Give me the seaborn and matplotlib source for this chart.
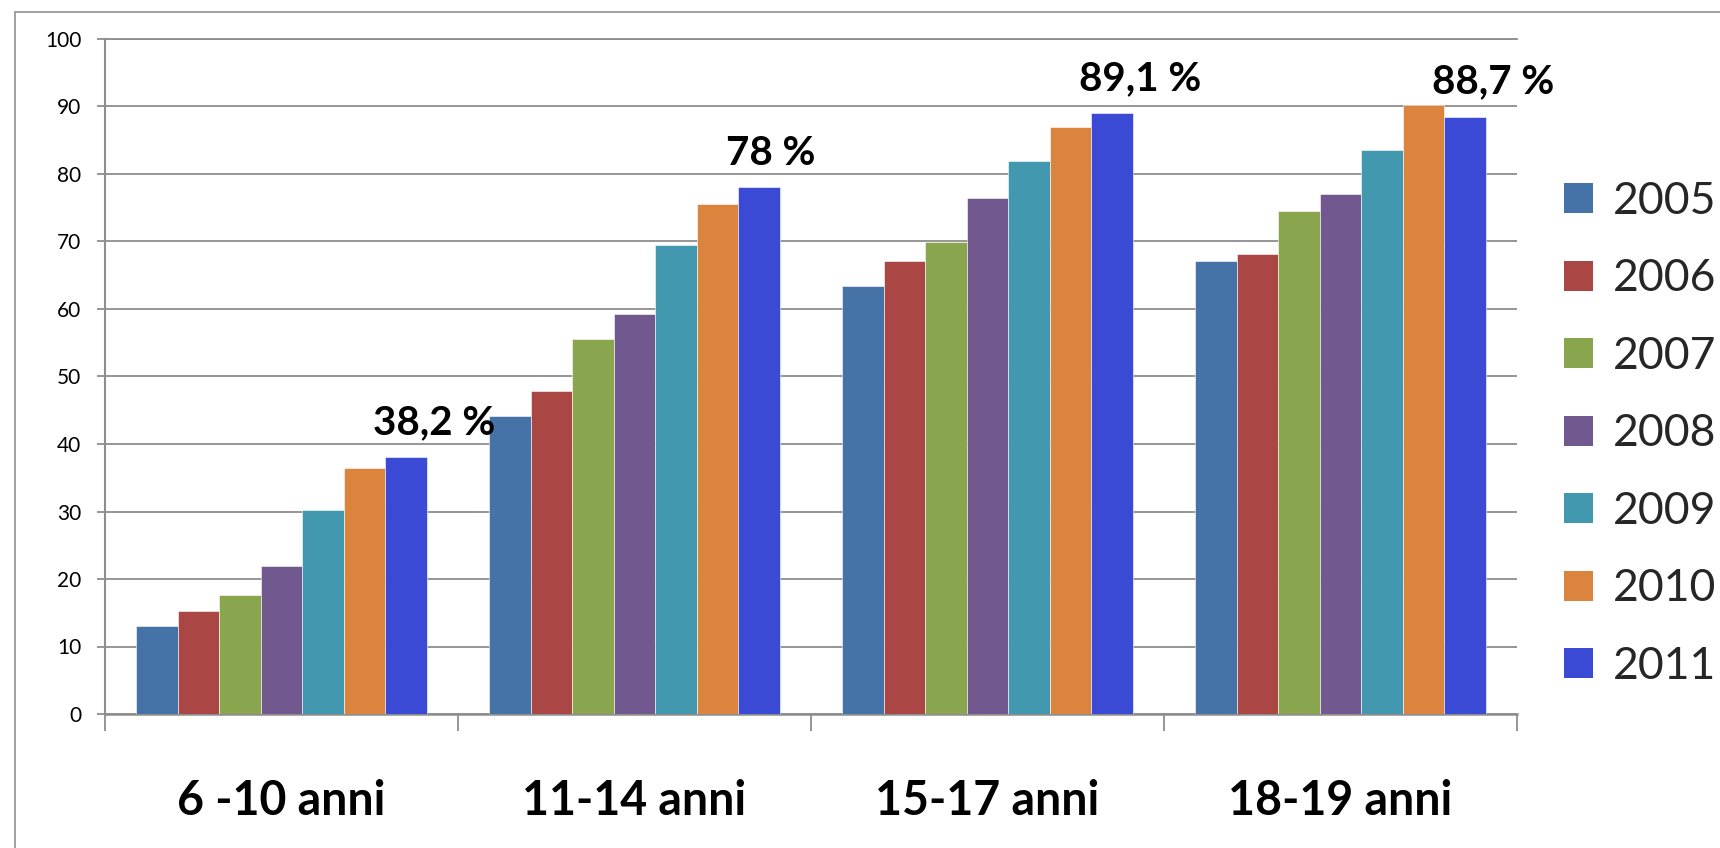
import matplotlib
matplotlib.use("Agg")
import matplotlib.pyplot as plt
import seaborn as sns
import pandas as pd
from matplotlib.lines import Line2D
from matplotlib.patches import Patch

# ---- data ----
categories = ["6 -10 anni", "11-14 anni", "15-17 anni", "18-19 anni"]
years = ["2005", "2006", "2007", "2008", "2009", "2010", "2011"]
v2005 = [13.0, 44.1, 63.4, 67.1]
v2006 = [15.2, 47.8, 67.1, 68.2]
v2007 = [17.7, 55.5, 69.9, 74.5]
v2008 = [22.0, 59.3, 76.5, 77.0]
v2009 = [30.2, 69.5, 81.9, 83.6]
v2010 = [36.4, 75.5, 87.0, 90.2]
v2011 = [38.0, 78.0, 89.0, 88.4]
highlight_labels = ["38,2 %", "78 %", "89,1 %", "88,7 %"]
highlight_values = [38.2, 78.0, 89.1, 88.7]
yticks = [0, 10, 20, 30, 40, 50, 60, 70, 80, 90, 100]

colors = ["#4572A7", "#AA4643", "#89A54E", "#71588F", "#4198AF", "#DB843D", "#3A4AD4"]

series = [v2005, v2006, v2007, v2008, v2009, v2010, v2011]
rows = []
for y, vals in zip(years, series):
    for c, v in zip(categories, vals):
        rows.append({"categoria": c, "anno": y, "valore": v})
df = pd.DataFrame(rows)

sns.set_theme(style="white")
plt.rcParams["font.family"] = ["Lato", "DejaVu Sans"]

W, H = 1720, 848
fig = plt.figure(figsize=(W / 100, H / 100), dpi=100)
fig.patch.set_facecolor("white")

# outer frame (left and top lines)
fig.add_artist(Line2D([15 / W, 15 / W], [0, 1 - 12 / H], color="#9a9a9a", lw=1.3, transform=fig.transFigure))
fig.add_artist(Line2D([15 / W, 1], [1 - 12 / H, 1 - 12 / H], color="#9a9a9a", lw=1.3, transform=fig.transFigure))

ax = fig.add_axes([105 / W, 1 - 714 / H, (1517 - 105) / W, (714 - 39) / H])
sns.barplot(data=df, x="categoria", y="valore", hue="anno", palette=colors,
            width=0.824, gap=0, ax=ax, legend=False, saturation=1,
            edgecolor="white", linewidth=0.4, zorder=3)

ax.set_ylim(0, 100)
ax.set_xlim(-0.5, 3.5)
ax.set_xlabel("")
ax.set_ylabel("")
ax.set_yticks(yticks)
ax.set_yticklabels([str(t) for t in yticks])
gridc = "#8e8e8e"
ax.yaxis.grid(True, color=gridc, lw=1.3, zorder=0)
ax.set_axisbelow(True)
ax.spines["right"].set_visible(False)
ax.spines["top"].set_color(gridc)
ax.spines["top"].set_linewidth(1.3)
ax.spines["left"].set_color(gridc)
ax.spines["left"].set_linewidth(1.5)
ax.spines["bottom"].set_color(gridc)
ax.spines["bottom"].set_linewidth(1.8)

ax.tick_params(axis="y", which="major", length=6, width=1.3, color=gridc,
               pad=11, labelsize=15, labelcolor="black", left=True)
ax.set_xticks(range(len(categories)))
ax.set_xticklabels(categories, fontsize=33.5, fontweight="bold")
ax.tick_params(axis="x", which="major", length=0, pad=47, labelcolor="black")
ax.set_xticks([i - 0.5 for i in range(len(categories) + 1)], minor=True)
ax.tick_params(axis="x", which="minor", length=12.5, width=1.3, color=gridc, bottom=True)

# highlight labels above the 2011 bars
n = len(years)
bw = 0.824 / n
for i, (lab, val) in enumerate(zip(highlight_labels, highlight_values)):
    x_left = i - 0.412 + (n - 1) * bw - 0.035
    ax.text(x_left, val + 3.3, lab, ha="left", va="baseline", fontsize=29,
            fontweight="bold", color="black", zorder=5)

# legend
handles = [Patch(facecolor=c, edgecolor="none") for c in colors]
fig.legend(handles, years, loc="upper left", bbox_to_anchor=(1564 / W, 1 - 181 / H),
           frameon=False, fontsize=32, handlelength=0.66, handleheight=0.66,
           handletextpad=0.45, labelspacing=0.82, borderpad=0, borderaxespad=0)

fig.savefig("out.png", dpi=100, facecolor="white")
